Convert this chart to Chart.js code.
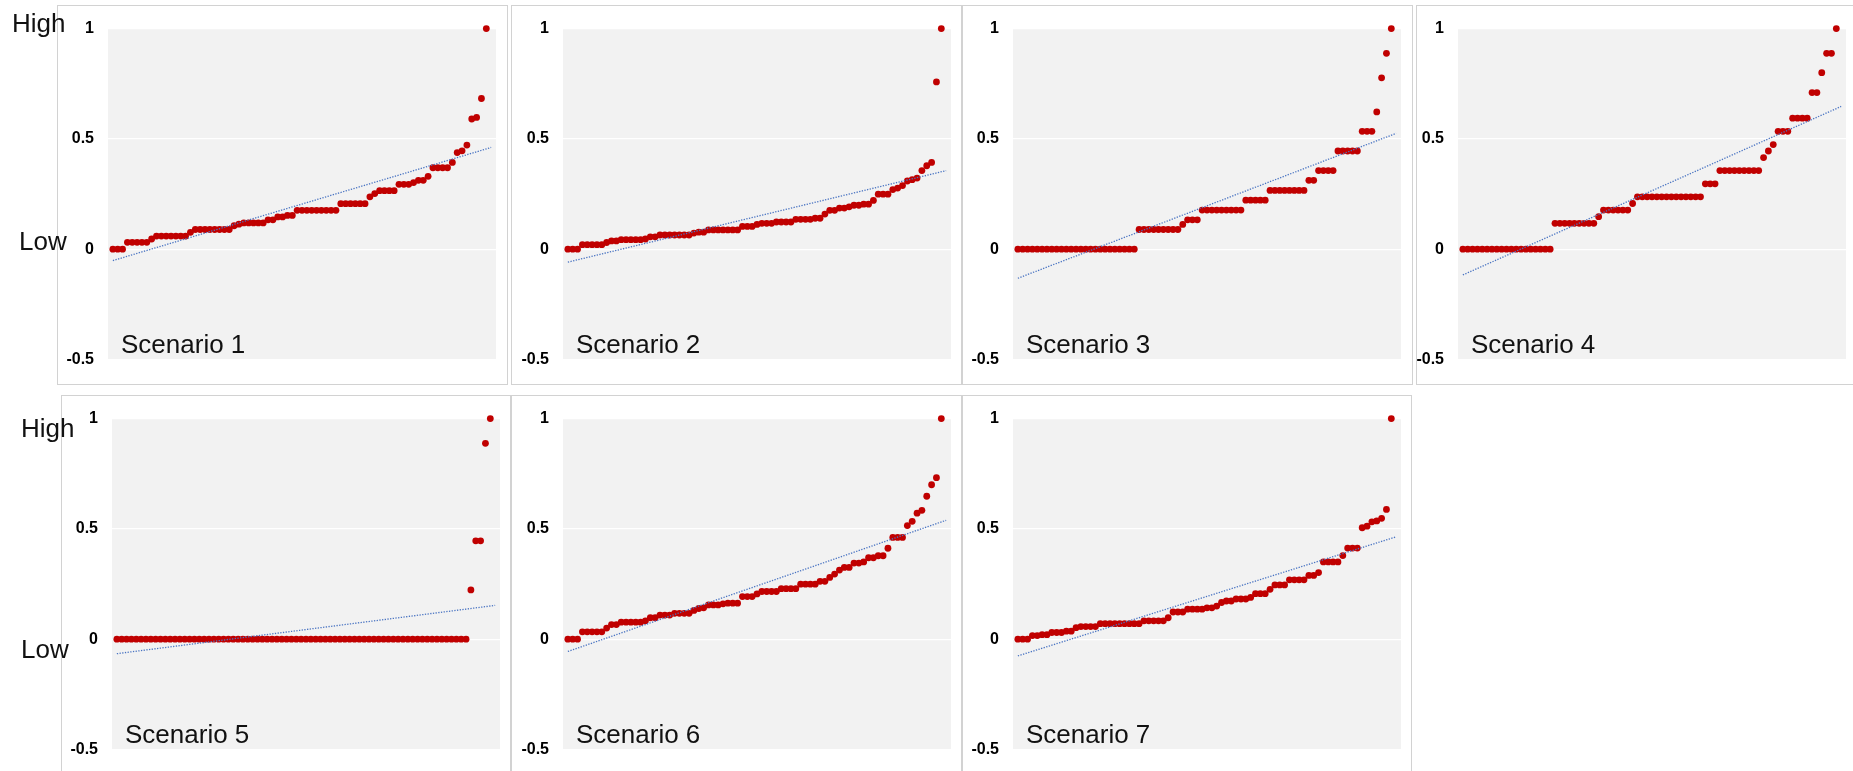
<!DOCTYPE html>
<html>
<head>
<meta charset="utf-8">
<script src="https://cdn.jsdelivr.net/npm/chart.js@4.4.1/dist/chart.umd.min.js"></script>
<style>
  body { margin: 0; background: #fff; width: 1853px; height: 771px; overflow: hidden; position: relative; font-family: 'Liberation Sans', Arial, sans-serif; }
  .panel { position: absolute; border: 1px solid #d2d2d2; box-sizing: border-box; }
  canvas { position: absolute; }
  .lbl { position: absolute; font-size: 26px; line-height: 26px; color: #111; white-space: nowrap; }
</style>
</head>
<body>
<script>
const scenarios = ['Scenario 1', 'Scenario 2', 'Scenario 3', 'Scenario 4', 'Scenario 5', 'Scenario 6', 'Scenario 7']
const sideLabels = ['High', 'Low']
const yTicks = [-0.5, 0, 0.5, 1]

// sorted values per scenario (78 items each)
const s1 = [0, 0, 0, 0.031, 0.031, 0.031, 0.031, 0.031, 0.046, 0.059, 0.059, 0.059, 0.059, 0.059, 0.059, 0.059, 0.076,
  0.089, 0.089, 0.089, 0.089, 0.089, 0.089, 0.089, 0.089, 0.106, 0.113, 0.119, 0.119, 0.119, 0.119, 0.119, 0.133, 0.133,
  0.146, 0.146, 0.153, 0.153, 0.176, 0.176, 0.176, 0.176, 0.176, 0.176, 0.176, 0.176, 0.176, 0.206, 0.206, 0.206, 0.206,
  0.206, 0.206, 0.237, 0.252, 0.265, 0.265, 0.265, 0.265, 0.294, 0.294, 0.294, 0.302, 0.312, 0.312, 0.33, 0.369, 0.369,
  0.369, 0.369, 0.393, 0.438, 0.446, 0.472, 0.59, 0.597, 0.683, 1]
const s2 = [0, 0, 0, 0.02, 0.02, 0.02, 0.02, 0.02, 0.03, 0.037, 0.037, 0.043, 0.043, 0.043, 0.043, 0.043, 0.046, 0.056,
  0.056, 0.064, 0.064, 0.064, 0.064, 0.064, 0.064, 0.064, 0.073, 0.077, 0.077, 0.087, 0.087, 0.087, 0.087, 0.087, 0.087,
  0.087, 0.103, 0.103, 0.103, 0.112, 0.117, 0.117, 0.117, 0.123, 0.123, 0.123, 0.123, 0.135, 0.135, 0.135, 0.135, 0.14,
  0.14, 0.159, 0.176, 0.176, 0.186, 0.186, 0.192, 0.199, 0.199, 0.204, 0.204, 0.221, 0.249, 0.249, 0.249, 0.27, 0.277,
  0.288, 0.309, 0.315, 0.322, 0.356, 0.378, 0.393, 0.758, 1]
const s3 = [0, 0, 0, 0, 0, 0, 0, 0, 0, 0, 0, 0, 0, 0, 0, 0, 0, 0, 0, 0, 0, 0, 0, 0, 0, 0.089, 0.089, 0.089, 0.089, 0.089,
  0.089, 0.089, 0.089, 0.089, 0.112, 0.133, 0.133, 0.133, 0.177, 0.177, 0.177, 0.177, 0.177, 0.177, 0.177, 0.177, 0.177,
  0.222, 0.222, 0.222, 0.222, 0.222, 0.266, 0.266, 0.266, 0.266, 0.266, 0.266, 0.266, 0.266, 0.312, 0.312, 0.356, 0.356,
  0.356, 0.356, 0.445, 0.445, 0.445, 0.445, 0.445, 0.534, 0.534, 0.534, 0.622, 0.777, 0.888, 1]
const s4 = [0, 0, 0, 0, 0, 0, 0, 0, 0, 0, 0, 0, 0, 0, 0, 0, 0, 0, 0, 0.117, 0.117, 0.117, 0.117, 0.117, 0.117, 0.117,
  0.117, 0.117, 0.147, 0.177, 0.177, 0.177, 0.177, 0.177, 0.177, 0.207, 0.237, 0.237, 0.237, 0.237, 0.237, 0.237, 0.237,
  0.237, 0.237, 0.237, 0.237, 0.237, 0.237, 0.237, 0.296, 0.296, 0.296, 0.356, 0.356, 0.356, 0.356, 0.356, 0.356, 0.356,
  0.356, 0.356, 0.415, 0.445, 0.474, 0.534, 0.534, 0.534, 0.594, 0.594, 0.594, 0.594, 0.71, 0.71, 0.8, 0.888, 0.888, 1]
const s5 = [0, 0, 0, 0, 0, 0, 0, 0, 0, 0, 0, 0, 0, 0, 0, 0, 0, 0, 0, 0, 0, 0, 0, 0, 0, 0, 0, 0, 0, 0, 0, 0, 0, 0, 0, 0,
  0, 0, 0, 0, 0, 0, 0, 0, 0, 0, 0, 0, 0, 0, 0, 0, 0, 0, 0, 0, 0, 0, 0, 0, 0, 0, 0, 0, 0, 0, 0, 0, 0, 0, 0, 0, 0,
  0.223, 0.446, 0.446, 0.888, 1]
const s6 = [0, 0, 0, 0.033, 0.033, 0.033, 0.033, 0.033, 0.05, 0.066, 0.066, 0.077, 0.077, 0.077, 0.077, 0.077, 0.083,
  0.097, 0.097, 0.109, 0.109, 0.109, 0.117, 0.117, 0.117, 0.117, 0.13, 0.139, 0.142, 0.155, 0.155, 0.155, 0.16, 0.163,
  0.163, 0.163, 0.193, 0.193, 0.193, 0.205, 0.216, 0.216, 0.216, 0.216, 0.229, 0.229, 0.229, 0.229, 0.249, 0.249, 0.249,
  0.249, 0.262, 0.262, 0.28, 0.295, 0.313, 0.325, 0.325, 0.345, 0.345, 0.35, 0.369, 0.369, 0.378, 0.378, 0.412, 0.461,
  0.461, 0.461, 0.515, 0.534, 0.571, 0.584, 0.648, 0.7, 0.732, 1]
const s7 = [0, 0, 0, 0.016, 0.016, 0.02, 0.02, 0.03, 0.03, 0.03, 0.036, 0.036, 0.052, 0.057, 0.057, 0.057, 0.057, 0.07,
  0.07, 0.07, 0.07, 0.07, 0.07, 0.07, 0.07, 0.07, 0.083, 0.083, 0.083, 0.083, 0.083, 0.097, 0.123, 0.123, 0.123, 0.136,
  0.136, 0.136, 0.136, 0.142, 0.142, 0.15, 0.166, 0.173, 0.173, 0.182, 0.182, 0.182, 0.189, 0.206, 0.206, 0.206, 0.226,
  0.246, 0.246, 0.246, 0.269, 0.269, 0.269, 0.269, 0.289, 0.289, 0.302, 0.35, 0.35, 0.35, 0.35, 0.379, 0.413, 0.413,
  0.413, 0.505, 0.512, 0.532, 0.536, 0.548, 0.588, 1]
const series = [s1, s2, s3, s4, s5, s6, s7]

// linear trend line end values
const trendX = [1, 79]
const trendStart = [-0.052, -0.059, -0.132, -0.117, -0.066, -0.056, -0.076]
const trendEnd = [0.461, 0.356, 0.525, 0.647, 0.153, 0.539, 0.464]

// layout (pixels)
const plotPos = [[108, 20], [563, 20], [1013, 20], [1458, 20], [112, 410], [563, 410], [1013, 410]]
const boxPos = [[57, 5, 451, 380], [511, 5, 451, 380], [962, 5, 451, 380], [1416, 5, 445, 380],
  [61, 395, 450, 385], [511, 395, 451, 385], [962, 395, 450, 385]]
const labelPos = [[12, 10, 0], [19, 228, 1], [21, 415, 0], [21, 636, 1]]
const plotW = 388, plotH = 348
const axisW = 70, padT = 15, padB = 15, padR = 6

const fontFamily = "'Liberation Sans', Arial, sans-serif"

const plotBg = {
  id: 'plotBg',
  beforeDraw(chart) {
    const { ctx, chartArea: a } = chart
    ctx.save()
    ctx.fillStyle = '#f2f2f2'
    ctx.fillRect(a.left, a.top, a.width, a.height)
    ctx.restore()
  }
}

function addDiv(cls, text, x, y) {
  const d = document.createElement('div')
  d.className = cls
  d.textContent = text
  d.style.left = x + 'px'
  d.style.top = y + 'px'
  document.body.appendChild(d)
  return d
}

series.forEach((vals, i) => {
  const [bx, by, bw, bh] = boxPos[i]
  const box = document.createElement('div')
  box.className = 'panel'
  Object.assign(box.style, { left: bx + 'px', top: by + 'px', width: bw + 'px', height: bh + 'px' })
  document.body.appendChild(box)

  const [pl, pt] = plotPos[i]
  const cv = document.createElement('canvas')
  const w = axisW + plotW + padR, h = padT + plotH + padB
  cv.width = w
  cv.height = h
  Object.assign(cv.style, { left: (pl - axisW) + 'px', top: (pt - padT) + 'px', width: w + 'px', height: h + 'px' })
  document.body.appendChild(cv)

  new Chart(cv, {
    type: 'scatter',
    data: {
      datasets: [
        {
          data: trendX.map((x, j) => ({ x, y: j ? trendEnd[i] : trendStart[i] })),
          showLine: true,
          borderColor: '#4a74c2',
          borderWidth: 1.3,
          borderDash: [1.3, 1.4],
          pointRadius: 0,
          clip: false,
        },
        {
          data: vals.map((v, j) => ({ x: j + 1, y: v })),
          backgroundColor: '#c00000',
          borderWidth: 0,
          pointRadius: 3.4,
          clip: false,
        }
      ]
    },
    options: {
      responsive: false,
      animation: false,
      events: [],
      layout: { padding: { top: padT, bottom: padB, left: 0, right: padR } },
      plugins: { legend: { display: false }, tooltip: { enabled: false } },
      scales: {
        x: { type: 'linear', min: 0, max: 80, display: false },
        y: {
          min: -0.5,
          max: 1,
          afterFit: s => { s.width = axisW },
          afterBuildTicks: s => { s.ticks = yTicks.map(v => ({ value: v })) },
          grid: { color: '#ffffff', lineWidth: 1.2, drawTicks: false },
          border: { display: false },
          ticks: {
            padding: 14,
            color: '#000',
            font: { size: 16, weight: 'bold', family: fontFamily },
            callback: v => String(v),
          },
        }
      }
    },
    plugins: [plotBg]
  })

  addDiv('lbl', scenarios[i], pl + 13, pt + plotH - 15 - 22)
})

labelPos.forEach(([x, y, k]) => addDiv('lbl', sideLabels[k], x, y))
</script>
</body>
</html>
